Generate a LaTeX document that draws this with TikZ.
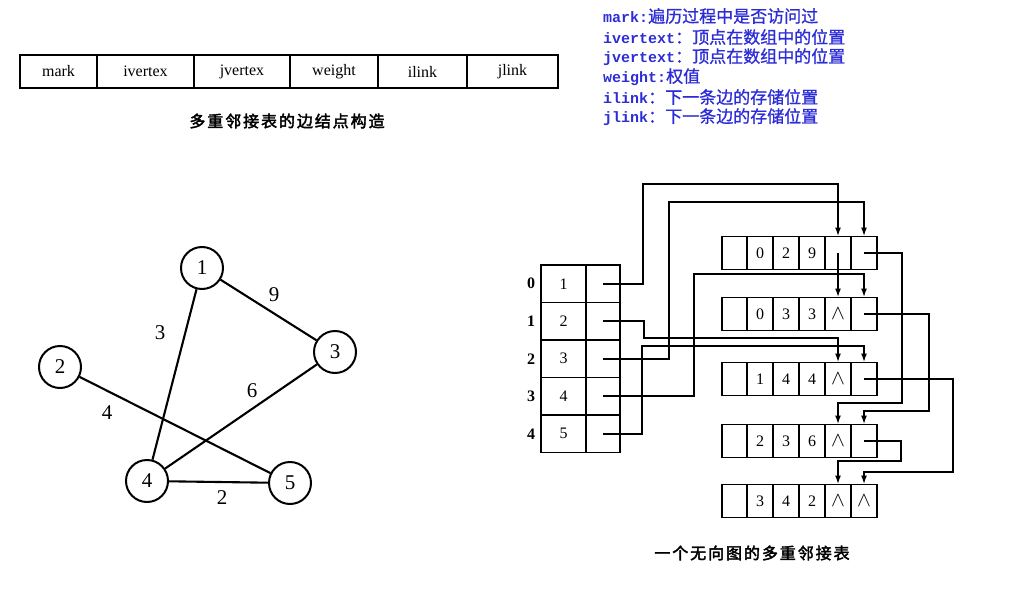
\documentclass[tikz,border=0pt]{standalone}
\usepackage{fontspec}
\usepackage{tikz}
\usetikzlibrary{positioning,arrows.meta}
\setmainfont{Liberation Serif}
\setmonofont{Liberation Mono}
\newfontfamily\cjk[FakeBold=1]{Noto Sans CJK SC}
\newfontfamily\cjkb[FakeBold=2.5]{Noto Sans CJK SC}
\definecolor{noteblue}{RGB}{45,45,215}
\newcommand{\fsz}[1]{\fontsize{#1}{#1}\selectfont}
\newcommand{\nilp}{\fsz{20}$\wedge$}

% edge node: name, y, ivertex, jvertex, weight, ilink, jlink
\newcommand{\edgenode}[7]{%
    \node[cell, minimum width=25pt] (#1m) at (734.5,#2) {};
    \node[cell, right=0pt of #1m] (#1iv) {#3};
    \node[cell, right=0pt of #1iv] (#1jv) {#4};
    \node[cell, right=0pt of #1jv] (#1w) {#5};
    \node[cell, right=0pt of #1w] (#1il) {#6};
    \node[cell, right=0pt of #1il] (#1jl) {#7};
}

\begin{document}
\begin{tikzpicture}[x=1pt, y=-1pt, >={Latex[length=9pt,width=6pt]},
    field/.style={draw, line width=1.5pt, outer sep=0pt, inner sep=0pt, minimum height=33pt, font=\fsz{16}},
    cell/.style={draw, line width=1.8pt, outer sep=0pt, inner sep=0pt, minimum width=26pt, minimum height=33pt, font=\fsz{16}},
    vcell/.style={draw, line width=1.8pt, outer sep=0pt, inner sep=0pt, minimum width=45pt, minimum height=37.5pt, font=\fsz{16}},
    vertex/.style={draw, circle, line width=2pt, minimum size=42pt, inner sep=0pt, font=\fsz{21}},
    wlabel/.style={font=\fsz{21}},
    caption/.style={font={\cjkb\fsz{16}\addfontfeatures{LetterSpace=12}}},
    note/.style={anchor=west, inner sep=0pt, text=noteblue, font=\ttfamily\bfseries\fsz{15}},
    conn/.style={->, line width=1.8pt},
    edge/.style={line width=2.1pt}]
    \useasboundingbox (0,0) rectangle (1019,599);

    % Edge node layout
    \node[field, minimum width=77pt] (fmark) at (58.5,71.5) {mark};
    \node[field, minimum width=97pt, right=0pt of fmark] (fiv) {ivertex};
    \node[field, minimum width=96pt, right=0pt of fiv] (fjv) {jvertex};
    \node[field, minimum width=88pt, right=0pt of fjv] (fw) {weight};
    \node[field, minimum width=89pt, right=0pt of fw] (fil) {ilink};
    \node[field, minimum width=91pt, right=0pt of fil] (fjl) {jlink};
    \node[caption] (capfield) at (287,121) {多重邻接表的边结点构造};

    % Notes
    \node[note] (nmark) at (603,16) {mark:{\cjk\mdseries\fsz{17}遍历过程中是否访问过}};
    \node[note] (niv) at (603,37) {ivertext{\cjk\mdseries\fsz{17}：顶点在数组中的位置}};
    \node[note] (njv) at (603,57) {jvertext{\cjk\mdseries\fsz{17}：顶点在数组中的位置}};
    \node[note] (nw) at (603,77) {weight:{\cjk\mdseries\fsz{17}权值}};
    \node[note] (nil) at (603,97) {ilink{\cjk\mdseries\fsz{17}：下一条边的存储位置}};
    \node[note] (njl) at (603,117) {jlink{\cjk\mdseries\fsz{17}：下一条边的存储位置}};

    % Graph
    \node[vertex] (n1) at (202,268) {1};
    \node[vertex] (n2) at (60,367) {2};
    \node[vertex] (n3) at (335,352) {3};
    \node[vertex] (n4) at (147,481) {4};
    \node[vertex] (n5) at (290,483) {5};
    \draw[edge] (n1) -- (n4);
    \draw[edge] (n1) -- (n3);
    \draw[edge] (n2) -- (n5);
    \draw[edge] (n3) -- (n4);
    \draw[edge] (n4) -- (n5);
    \node[wlabel] (w14) at (160,333) {3};
    \node[wlabel] (w13) at (274,295) {9};
    \node[wlabel] (w34) at (252,391) {6};
    \node[wlabel] (w25) at (107,413) {4};
    \node[wlabel] (w45) at (222,498) {2};

    % Vertex array
    \foreach \i/\v in {0/1,1/2,2/3,3/4,4/5} {
        \node[vcell] (v\i v) at (563.5,{283.75+37.5*\i}) {\v};
        \node[vcell, minimum width=34pt, right=0pt of v\i v] (v\i p) {};
        \node[font=\fsz{16}\bfseries] (idx\i) at (531,{283.75+37.5*\i}) {\i};
    }

    % Edge nodes
    \edgenode{eA}{253}{0}{2}{9}{}{}
    \edgenode{eB}{314}{0}{3}{3}{\nilp}{}
    \edgenode{eC}{379}{1}{4}{4}{\nilp}{}
    \edgenode{eD}{441}{2}{3}{6}{\nilp}{}
    \edgenode{eE}{501}{3}{4}{2}{\nilp}{\nilp}

    % Links from the vertex array
    \draw[conn] (v0p.center) -| (643,184) -| (eAil.north);
    \draw[conn] (v2p.center) -| (669,202) -| (eAjl.north);
    \draw[conn] (v3p.center) -| (694,274) -| (eBjl.north);
    \draw[conn] (v1p.center) -| (644,338) -| (eCil.north);
    \draw[conn] (v4p.center) -| (642,346) -| (eCjl.north);

    % Links between edge nodes
    \draw[conn] (eAil.center) -- (eBil.north);
    \draw[conn] (eAjl.center) -| (902,403) -| (eDil.north);
    \draw[conn] (eBjl.center) -| (929,411) -| (eDjl.north);
    \draw[conn] (eCjl.center) -| (953,472) -| (eEjl.north);
    \draw[conn] (eDjl.center) -| (901,461) -| (eEil.north);

    \node[caption] (caplist) at (752,553) {一个无向图的多重邻接表};
\end{tikzpicture}
\end{document}
